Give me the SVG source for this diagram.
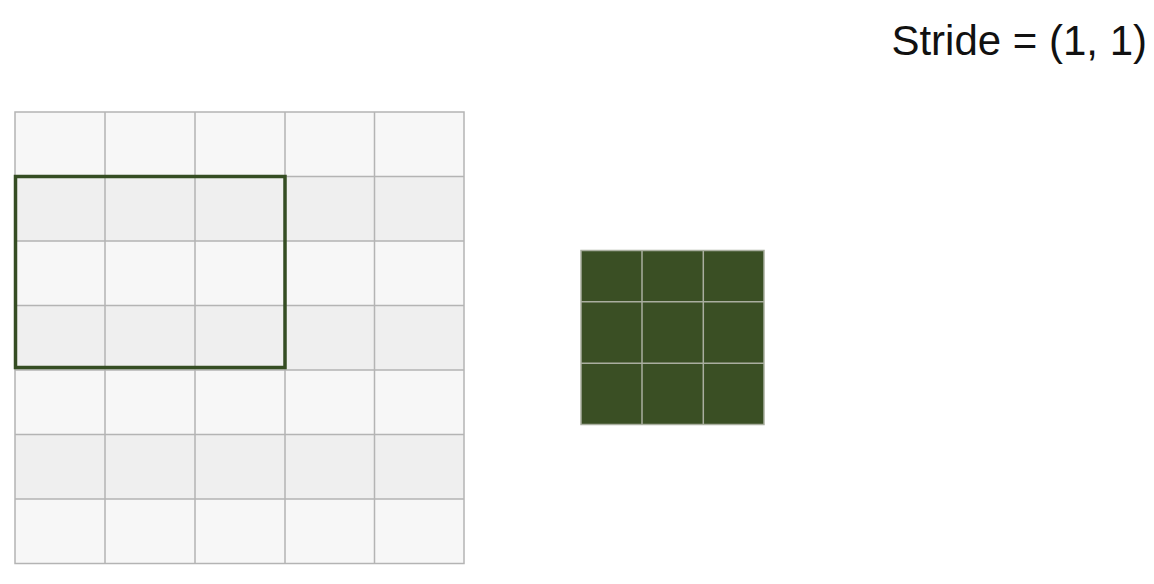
<svg xmlns="http://www.w3.org/2000/svg" width="1154" height="584" viewBox="0 0 1154 584">
  <style>
    .lt { fill: #f7f7f7; }
    .dk { fill: #efefef; }
    .gl { stroke: #b4b4b4; stroke-width: 1.5; fill: none; }
    .gg { stroke: #a9ae9f; stroke-width: 1.5; fill: none; }
    .title { font-family: "Liberation Sans", Arial, sans-serif; font-size: 42px; fill: #111; }
  </style>
  <rect width="1154" height="584" fill="#ffffff"/>
  <text class="title" x="1147" y="55" text-anchor="end">Stride = (1, 1)</text>
  <g id="input-grid">
    <rect class="lt" x="15" y="112" width="449" height="64.5"/>
    <rect class="dk" x="15" y="176.5" width="449" height="64.5"/>
    <rect class="lt" x="15" y="241" width="449" height="64.5"/>
    <rect class="dk" x="15" y="305.5" width="449" height="64.5"/>
    <rect class="lt" x="15" y="370" width="449" height="64.5"/>
    <rect class="dk" x="15" y="434.5" width="449" height="64.5"/>
    <rect class="lt" x="15" y="499" width="449" height="64.5"/>
    <path class="gl" d="M105 112V563.5M195 112V563.5M285 112V563.5M374.5 112V563.5M15 176.5H464M15 241H464M15 305.5H464M15 370H464M15 434.5H464M15 499H464"/>
    <rect class="gl" x="15" y="112" width="449" height="451.5"/>
  </g>
  <g id="window">
    <rect x="15.5" y="176.5" width="269.5" height="191" fill="none" stroke="#354d23" stroke-width="3.5"/>
  </g>
  <g id="output-grid">
    <rect x="581" y="250.5" width="183" height="174" fill="#3a4f24"/>
    <path class="gg" d="M642 250.5V424.5M703.3 250.5V424.5M581 301.8H764M581 363.3H764"/>
    <rect class="gg" x="581" y="250.5" width="183" height="174"/>
  </g>
</svg>
